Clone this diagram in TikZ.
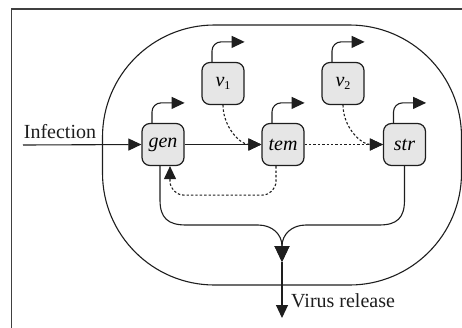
\documentclass[tikz,border=0pt]{standalone}
\usepackage{fontspec}
\setmainfont{Liberation Serif}
\newfontfamily\labelfont{Liberation Serif}
\usetikzlibrary{arrows.meta}
\definecolor{boxfill}{HTML}{E6E6E6}
\definecolor{ink}{HTML}{1E1E1E}
\tikzset{
  gene/.style={draw=ink, line width=1.2pt, fill=boxfill, rounded corners=8pt,
    minimum width=42pt, minimum height=42pt, inner sep=0pt,
    font=\labelfont\fontsize{20}{20}\selectfont\itshape},
  tip/.style={-{Triangle[length=13pt,width=12pt]}},
  bigtip/.style={-{Triangle[length=16pt,width=15pt]}},
  wire/.style={draw=ink, line width=1.1pt},
  dots/.style={wire, dash pattern=on 2.4pt off 2pt},
  promoter/.style={wire, tip, rounded corners=9pt},
  lbl/.style={font=\labelfont\fontsize{20}{20}\selectfont, text=ink, inner sep=0pt}
}
\newcommand{\vsub}[1]{v\raisebox{-3pt}{\upshape\fontsize{12}{12}\selectfont #1}}
\begin{document}
\begin{tikzpicture}[x=1pt,y=-1pt]
  \useasboundingbox (0,0) rectangle (462,327);
  \clip (0,0) rectangle (462,327);
  % outer frame
  \draw[draw=black!75, line width=1.6pt] (11.5,9) rectangle (480,345);
  % cell outline
  \draw[wire, rounded corners=112pt] (102.5,25) rectangle (461.5,285);

  % genes
  \node[gene] (gen) at (163,144.5) {gen};
  \node[gene] (tem) at (283,144.5) {tem};
  \node[gene] (str) at (404.5,144.5) {str};
  \node[gene] (v1)  at (223,83.5) {\vsub{1}};
  \node[gene] (v2)  at (343,83.5) {\vsub{2}};

  % promoters
  \foreach \g in {gen,tem,str,v1,v2}
    \draw[promoter] ([xshift=-11pt]\g.north) |- ([yshift=20pt]\g.north east);

  % infection
  \coordinate (inf) at (23,145);
  \draw[wire, tip] (inf) -- (gen.west);
  \node[lbl, anchor=base] at (60,138) {Infection};

  % regulation
  \draw[wire, tip] (gen.east) -- (tem.west);
  \draw[dots, tip] (v1.south) to[out=-90,in=180] (tem.west);
  \draw[dots, tip] (tem.east) -- (str.west);
  \draw[dots, tip] (v2.south) to[out=-90,in=180] (str.west);
  \draw[dots, tip, rounded corners=14pt]
    ([xshift=-7pt]tem.south) -- ++(0,29) -| ([xshift=7pt]gen.south);

  % release
  \coordinate (merge) at (282,262);
  \coordinate (release) at (282,318);
  \draw[wire, bigtip]
    ([xshift=-3pt]gen.south) -- (160,200) .. controls (160,218) and (168,225) .. (186,225)
    -- (258,225) .. controls (272,225) and (282,234) .. (merge);
  \draw[wire, bigtip]
    (str.south) -- (404.5,200) .. controls (404.5,218) and (397,225) .. (379,225)
    -- (306,225) .. controls (292,225) and (282,234) .. (merge);
  \draw[wire, tip] (merge) -- (release);
  \node[lbl, anchor=base west] at (291,307) {Virus release};
\end{tikzpicture}
\end{document}
